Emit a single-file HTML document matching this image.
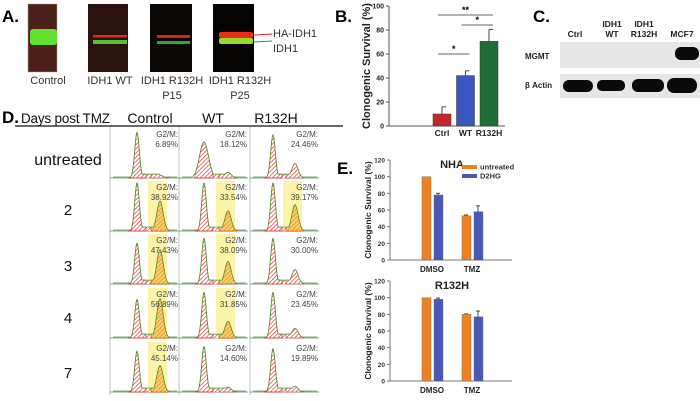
<!DOCTYPE html>
<html><head><meta charset="utf-8">
<style>
html,body{margin:0;padding:0;background:#fff;}
svg{display:block;font-family:"Liberation Sans",Arial,sans-serif;}
</style></head>
<body>
<svg id="fig" width="700" height="401" viewBox="0 0 700 401" xmlns="http://www.w3.org/2000/svg">
<defs>
<pattern id="hatchR" width="3" height="3" patternUnits="userSpaceOnUse" patternTransform="rotate(45)"><rect width="3" height="3" fill="#fff"/><line x1="0" y1="0" x2="0" y2="3" stroke="#e8383a" stroke-width="1.4"/></pattern>
<pattern id="hatchO" width="3" height="3" patternUnits="userSpaceOnUse" patternTransform="rotate(45)"><rect width="3" height="3" fill="#f7d36a"/><line x1="0" y1="0" x2="0" y2="3" stroke="#ec8a1e" stroke-width="1.5"/></pattern>
</defs>

<!-- Panel A -->
<g>
<text x="2" y="22" font-size="17" font-weight="bold">A.</text>
<rect x="28" y="4" width="29" height="68" fill="#4a2018" stroke="#b98" stroke-width="0.5"/>
<rect x="30" y="29" width="27" height="16" rx="3" fill="#63e030"/>
<rect x="88" y="4" width="40" height="68" fill="#2a120e"/>
<rect x="93" y="35" width="34" height="2.5" fill="#d83020"/>
<rect x="93" y="40" width="34" height="4" fill="#52c030"/>
<rect x="150" y="4" width="42" height="68" fill="#0c0805"/>
<rect x="157" y="35" width="33" height="3" fill="#d02818"/>
<rect x="157" y="41" width="33" height="3" fill="#28a840"/>
<rect x="213" y="4" width="41" height="68" fill="#050403"/>
<rect x="219" y="32" width="34" height="6" rx="2" fill="#e83018"/>
<rect x="219" y="38" width="34" height="6" rx="2" fill="#9ad830"/>
<line x1="254" y1="35" x2="272" y2="34" stroke="#e82020" stroke-width="1"/>
<line x1="254" y1="42" x2="272" y2="41" stroke="#20a030" stroke-width="1"/>
<text x="273" y="37" font-size="11" fill="#333">HA-IDH1</text>
<text x="273" y="52" font-size="11" fill="#333">IDH1</text>
<g font-size="11" fill="#333" text-anchor="middle">
<text x="48" y="84">Control</text>
<text x="110" y="84">IDH1 WT</text>
<text x="172" y="84">IDH1 R132H</text>
<text x="172" y="99">P15</text>
<text x="240" y="84">IDH1 R132H</text>
<text x="240" y="99">P25</text>
</g>
</g>

<!-- Panel B -->
<g id="panelB">
<text x="335" y="22" font-size="17" font-weight="bold">B.</text>
<text transform="translate(370,66) rotate(-90)" font-size="11" font-weight="bold" text-anchor="middle" fill="#222">Clonogenic Survival (%)</text>
</g>

<!-- Panel C -->
<g>
<text x="533" y="22" font-size="17" font-weight="bold">C.</text>
<g font-size="8.5" font-weight="bold" fill="#222" text-anchor="middle">
<text x="575" y="37">Ctrl</text>
<text x="612" y="27">IDH1</text><text x="612" y="37">WT</text>
<text x="644" y="27">IDH1</text><text x="644" y="37">R132H</text>
<text x="682" y="37">MCF7</text>
</g>
<text x="525" y="59" font-size="8" font-weight="bold" fill="#222">MGMT</text>
<text x="525" y="88" font-size="8" font-weight="bold" fill="#222">β Actin</text>
<rect x="560" y="42" width="140" height="26" fill="#e6e6e6"/>
<rect x="675" y="47" width="24" height="13" rx="6" fill="#0a0a0a"/>
<rect x="560" y="74" width="140" height="24" fill="#e6e6e6"/>
<rect x="563" y="80" width="30" height="12" rx="6" fill="#0a0a0a"/>
<rect x="597" y="80" width="28" height="11" rx="5" fill="#0a0a0a"/>
<rect x="632" y="79" width="32" height="13" rx="6" fill="#0a0a0a"/>
<rect x="667" y="78" width="30" height="15" rx="7" fill="#0a0a0a"/>
</g>

<!-- Panel D -->
<g id="panelD">
<text x="2" y="123" font-size="17" font-weight="bold">D.</text>
<text x="21" y="123" font-size="13.5" fill="#111" textLength="89">Days post TMZ</text>
<text x="150" y="123" font-size="14" fill="#111" text-anchor="middle">Control</text>
<text x="213" y="123" font-size="14" fill="#111" text-anchor="middle">WT</text>
<text x="276" y="123" font-size="14" fill="#111" text-anchor="middle">R132H</text>
<line x1="15" y1="126" x2="343" y2="126" stroke="#111" stroke-width="1.3"/>
</g>

<!-- Panel E -->
<g id="panelE">
<text x="337" y="174" font-size="17" font-weight="bold">E.</text>
</g>
</svg>

<script>
const NS="http://www.w3.org/2000/svg";
function mk(parent,tag,attrs,text){const e=document.createElementNS(NS,tag);for(const k in attrs)e.setAttribute(k,attrs[k]);if(text!==undefined)e.textContent=text;parent.appendChild(e);return e;}

// ---------- Panel B data ----------
const bCategories=["Ctrl","WT","R132H"];
const bValues=[10,42,70.5];
const bErrors=[6,4,10];
const bColors=["#c0282c","#3a56c0","#1f6e36"];
const bTicks=[0,20,40,60,80,100];

(function(){
  const g=document.getElementById('panelB');
  const y0=126, y1=6, yMax=100, axX=389;
  const ys=v=>y0-(v/yMax)*(y0-y1);
  const xCenter=i=>442+i*23.5;
  mk(g,'line',{x1:axX,y1:y1,x2:axX,y2:y0,stroke:'#555','stroke-width':1});
  mk(g,'line',{x1:axX,y1:y0,x2:505,y2:y0,stroke:'#555','stroke-width':1});
  bTicks.forEach(t=>{
    mk(g,'line',{x1:axX-3,y1:ys(t),x2:axX,y2:ys(t),stroke:'#555'});
    const tx=mk(g,'text',{x:axX-5,y:ys(t)+2.5,'font-size':7,'font-weight':'bold','text-anchor':'end',fill:'#222'},t);
    
    
  });
  bCategories.forEach((c,i)=>{
    const cx=xCenter(i);
    mk(g,'line',{x1:cx,y1:ys(bValues[i]),x2:cx,y2:ys(bValues[i]+bErrors[i]),stroke:'#444'});
    mk(g,'line',{x1:cx,y1:ys(bValues[i]+bErrors[i]),x2:cx+4,y2:ys(bValues[i]+bErrors[i]),stroke:'#444'});
    const r=mk(g,'rect',{x:cx-9,y:ys(bValues[i]),width:18,height:y0-ys(bValues[i]),fill:bColors[i],stroke:'#333','stroke-width':0.5});
    
    
    const t=mk(g,'text',{x:cx,y:136,'font-size':8.5,'font-weight':'bold','text-anchor':'middle',fill:'#222'},c);
    
    
  });
  const sig=[[0,2,15,"**"],[1,2,25,"*"],[0,1,54,"*"]];
  sig.forEach(s=>{
    const xa=xCenter(s[0])-4, xb=xCenter(s[1])+4;
    mk(g,'line',{x1:xa,y1:s[2],x2:xb,y2:s[2],stroke:'#666'});
    const t=mk(g,'text',{x:(xa+xb)/2,y:s[2]-2,'font-size':9,'font-weight':'bold','text-anchor':'middle'},s[3]);
    
    
  });
})();

// ---------- Panel E data ----------
const eGroups=["DMSO","TMZ"];
const eSeries=["untreated","D2HG"];
const nhaUntreated=[100,53];
const nhaD2HG=[78,58];
const nhaErrU=[0,1];
const nhaErrD=[2,7];
const r132hUntreated=[100,80];
const r132hD2HG=[98,77];
const r132hErrU=[0,0.5];
const r132hErrD=[1.5,7];
const eTicks=[0,20,40,60,80,100,120];
const eColors=["#f08020","#4858b8"];

function drawE(title,top,bottom,valsU,valsD,errU,errD,legend){
  const g=document.getElementById('panelE');
  const axX=390, yMax=120;
  const ys=v=>bottom-(v/yMax)*(bottom-top);
  mk(g,'line',{x1:axX,y1:top,x2:axX,y2:bottom,stroke:'#777'});
  mk(g,'line',{x1:axX,y1:bottom,x2:512,y2:bottom,stroke:'#777'});
  eTicks.forEach(t=>{
    mk(g,'line',{x1:axX-3,y1:ys(t),x2:axX,y2:ys(t),stroke:'#777'});
    const tx=mk(g,'text',{x:axX-5,y:ys(t)+2.5,'font-size':6.5,'font-weight':'bold','text-anchor':'end',fill:'#333'},t);
    
    
  });
  const yt=mk(g,'text',{transform:`translate(371,${(top+bottom)/2}) rotate(-90)`,'font-size':8.5,'font-weight':'bold','text-anchor':'middle',fill:'#222'},'Clonogenic Survival (%)');
  
  
  const tt=mk(g,'text',{x:452,y:top+8,'font-size':11,'font-weight':'bold','text-anchor':'middle',fill:'#222'},title);
  
  
  eGroups.forEach((gr,i)=>{
    const gx=426+i*40;
    [[valsU,errU,0],[valsD,errD,1]].forEach(([vals,errs,s])=>{
      const x=gx-4+s*12;
      const v=vals[i], e=errs[i];
      if(e>0){mk(g,'line',{x1:x+4,y1:ys(v),x2:x+4,y2:ys(v+e),stroke:'#444'});
        mk(g,'line',{x1:x+2,y1:ys(v+e),x2:x+6,y2:ys(v+e),stroke:'#444'});}
      const r=mk(g,'rect',{x:x,y:ys(v),width:9,height:bottom-ys(v),fill:eColors[s],stroke:'#666','stroke-width':0.4});
      
      
    });
    const lt=mk(g,'text',{x:gx+6,y:bottom+12,'font-size':8,'font-weight':'bold','text-anchor':'middle',fill:'#222'},gr);
    
    
  });
  if(legend){
    eSeries.forEach((s,i)=>{
      const ly=167+i*9;
      const sw=mk(g,'rect',{x:462,y:ly-2,width:15,height:4,fill:eColors[i]});
      
      
      const t=mk(g,'text',{x:480,y:ly+2.5,'font-size':7.5,'font-weight':'bold',fill:'#333'},s);
      
      
    });
  }
}
drawE("NHA",160,260,nhaUntreated,nhaD2HG,nhaErrU,nhaErrD,true);
drawE("R132H",281,381,r132hUntreated,r132hD2HG,r132hErrU,r132hErrD,false);

// ---------- Panel D data ----------
const dRows=["untreated","2","3","4","7"];
const dCols=["Control","WT","R132H"];
const g2mLabels=[["6.89%","18.12%","24.46%"],["38.92%","33.54%","39.17%"],["47.43%","38.09%","30.00%"],["56.89%","31.85%","23.45%"],["45.14%","14.60%","19.89%"]];
const g1Heights=[[0.95,0.75,0.9],[1,1,1],[0.85,0.95,0.95],[0.8,0.95,0.95],[0.85,0.95,0.9]];
const g2Heights=[[0.06,0.12,0.3],[0.62,0.42,0.55],[0.72,0.47,0.3],[0.82,0.35,0.2],[0.55,0.1,0.12]];
const highlighted=[[0,0,0],[1,1,1],[1,1,0],[1,1,0],[1,0,0]];

(function(){
  const g=document.getElementById('panelD');
  const colX=[110,179,250], rowY=[127,180,233,287,341], W=69, H=54;
  const rowLabY=[165,215,271,323,378];
  dRows.forEach((r,ri)=>{
    const t=mk(g,'text',{x:68,y:rowLabY[ri],'font-size':ri===0?16:15,'text-anchor':'middle',fill:'#111'},r);
    
    
  });
  const g1Off=[27,25,23], g2Off=[50,49,45];
  dRows.forEach((r,ri)=>{dCols.forEach((c,ci)=>{
    const x0=colX[ci], y0=rowY[ri], base=y0+H-3, ph=H-6;
    const cell=mk(g,'g',{});
    
    
    const g1x=x0+g1Off[ci], g2x=x0+g2Off[ci];
    if(highlighted[ri][ci]) mk(cell,'rect',{x:g2x-12,y:y0+1,width:19,height:H-3,fill:'#fbf4a8'});
    mk(cell,'line',{x1:x0,y1:y0,x2:x0,y2:y0+H,stroke:'#999','stroke-width':0.6});
    mk(cell,'line',{x1:x0,y1:base,x2:x0+W,y2:base,stroke:'#333','stroke-width':0.6});
    const h1=g1Heights[ri][ci]*ph, h2=g2Heights[ri][ci]*ph;
    const wide=(ri===0&&ci===1)?4.5:2.3;
    const f=x=>{const a=h1*Math.exp(-((x-g1x)**2)/(2*wide*wide));const b=h2*Math.exp(-((x-g2x)**2)/(2*10));const s=(x>g1x&&x<g2x)?ph*0.08:0;return Math.max(a,b,s);};
    let pG1=`M${g1x-9},${base}`,pG2=`M${g2x-9},${base}`,pAll=`M${x0+3},${base-1}`;
    for(let x=g1x-9;x<=g1x+9;x+=0.5)pG1+=` L${x},${base-f(x)}`;
    pG1+=` L${g1x+9},${base}Z`;
    for(let x=g2x-9;x<=g2x+9;x+=0.5)pG2+=` L${x},${base-f(x)}`;
    pG2+=` L${g2x+9},${base}Z`;
    for(let x=x0+3;x<=x0+W-2;x+=0.5)pAll+=` L${x},${base-Math.max(1,f(x))}`;
    mk(cell,'path',{d:`M${g1x+9},${base} L${g2x-9},${base} L${g2x-9},${base-ph*0.08} L${g1x+9},${base-ph*0.08}Z`,fill:'url(#hatchR)'});
    mk(cell,'path',{d:pG1,fill:'url(#hatchR)',stroke:'#e02020','stroke-width':0.7});
    mk(cell,'path',{d:pG2,fill:highlighted[ri][ci]?'url(#hatchO)':'url(#hatchR)',stroke:'#e02020','stroke-width':0.6});
    mk(cell,'path',{d:pAll,fill:'none',stroke:'#3aa030','stroke-width':0.7});
    mk(cell,'text',{x:x0+W-1,y:y0+10,'font-size':8,'text-anchor':'end',fill:'#444'},'G2/M:');
    const lt=mk(cell,'text',{x:x0+W-1,y:y0+20,'font-size':8,'text-anchor':'end',fill:'#444'},g2mLabels[ri][ci]);
    
    
  });});
})();
</script>
</body></html>
